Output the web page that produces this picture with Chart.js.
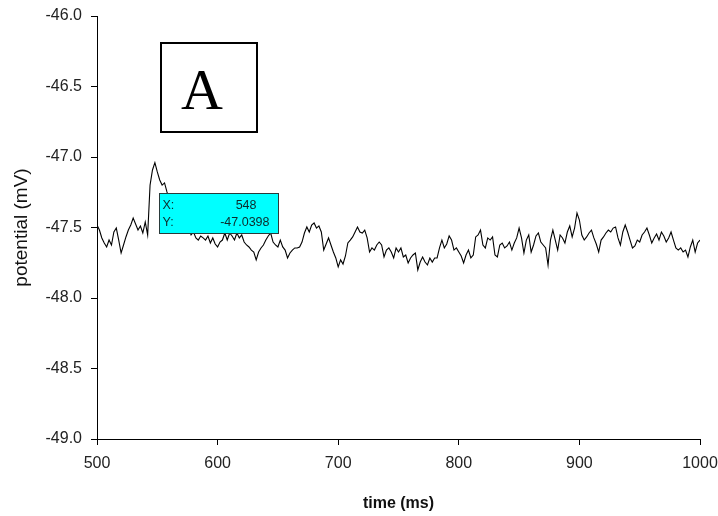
<!DOCTYPE html>
<html>
<head>
<meta charset="utf-8">
<title>Membrane potential trace</title>
<script src="https://cdn.jsdelivr.net/npm/chart.js@4.4.1/dist/chart.umd.min.js"></script>
<style>
  html, body { margin: 0; padding: 0; background: #ffffff; }
  canvas { display: block; }
</style>
</head>
<body>
<canvas id="trace" width="718" height="516"></canvas>
<script>
// Recorded sweep: time (ms) and membrane potential (mV), one sample every 2 ms
const timeMs = [
  500,502,504,506,508,510,512,514,516,518,520,522,524,526,528,530,532,534,536,538,
  540,542,544,546,548,550,552,554,556,558,560,562,564,566,568,570,572,574,576,578,
  580,582,584,586,588,590,592,594,596,598,600,602,604,606,608,610,612,614,616,618,
  620,622,624,626,628,630,632,634,636,638,640,642,644,646,648,650,652,654,656,658,
  660,662,664,666,668,670,672,674,676,678,680,682,684,686,688,690,692,694,696,698,
  700,702,704,706,708,710,712,714,716,718,720,722,724,726,728,730,732,734,736,738,
  740,742,744,746,748,750,752,754,756,758,760,762,764,766,768,770,772,774,776,778,
  780,782,784,786,788,790,792,794,796,798,800,802,804,806,808,810,812,814,816,818,
  820,822,824,826,828,830,832,834,836,838,840,842,844,846,848,850,852,854,856,858,
  860,862,864,866,868,870,872,874,876,878,880,882,884,886,888,890,892,894,896,898,
  900,902,904,906,908,910,912,914,916,918,920,922,924,926,928,930,932,934,936,938,
  940,942,944,946,948,950,952,954,956,958,960,962,964,966,968,970,972,974,976,978,
  980,982,984,986,988,990,992,994,996,998,1000
];

const potentialMv = [
  -47.482,-47.518,-47.574,-47.610,-47.638,-47.589,-47.624,-47.532,-47.504,-47.589,
  -47.681,-47.624,-47.567,-47.518,-47.482,-47.433,-47.475,-47.518,-47.489,-47.539,
  -47.461,-47.553,-47.199,-47.092,-47.0398,-47.106,-47.163,-47.199,-47.184,-47.248,
  -47.305,-47.340,-47.390,-47.433,-47.411,-47.482,-47.461,-47.518,-47.504,-47.553,
  -47.532,-47.574,-47.589,-47.560,-47.574,-47.589,-47.560,-47.610,-47.574,-47.617,
  -47.638,-47.603,-47.589,-47.539,-47.589,-47.539,-47.560,-47.589,-47.539,-47.574,
  -47.553,-47.603,-47.624,-47.638,-47.660,-47.674,-47.730,-47.674,-47.645,-47.624,
  -47.589,-47.560,-47.539,-47.603,-47.624,-47.638,-47.589,-47.638,-47.660,-47.716,
  -47.681,-47.660,-47.645,-47.645,-47.638,-47.603,-47.539,-47.496,-47.532,-47.482,
  -47.468,-47.504,-47.489,-47.532,-47.660,-47.617,-47.574,-47.624,-47.674,-47.716,
  -47.780,-47.730,-47.759,-47.702,-47.610,-47.589,-47.567,-47.532,-47.496,-47.532,
  -47.539,-47.518,-47.574,-47.674,-47.645,-47.660,-47.624,-47.603,-47.624,-47.709,
  -47.660,-47.645,-47.674,-47.716,-47.645,-47.674,-47.645,-47.709,-47.695,-47.752,
  -47.716,-47.695,-47.681,-47.801,-47.745,-47.709,-47.745,-47.766,-47.716,-47.745,
  -47.716,-47.716,-47.645,-47.589,-47.645,-47.617,-47.560,-47.589,-47.660,-47.645,
  -47.674,-47.702,-47.752,-47.695,-47.660,-47.716,-47.695,-47.567,-47.553,-47.518,
  -47.624,-47.645,-47.574,-47.589,-47.567,-47.695,-47.709,-47.624,-47.610,-47.645,
  -47.631,-47.603,-47.660,-47.610,-47.574,-47.504,-47.574,-47.681,-47.589,-47.553,
  -47.674,-47.624,-47.560,-47.539,-47.603,-47.624,-47.645,-47.766,-47.589,-47.518,
  -47.589,-47.660,-47.553,-47.574,-47.610,-47.532,-47.489,-47.567,-47.504,-47.397,
  -47.447,-47.553,-47.589,-47.567,-47.539,-47.518,-47.574,-47.617,-47.674,-47.589,
  -47.567,-47.539,-47.518,-47.532,-47.504,-47.496,-47.574,-47.624,-47.532,-47.482,
  -47.532,-47.589,-47.645,-47.631,-47.589,-47.603,-47.553,-47.532,-47.504,-47.553,
  -47.610,-47.574,-47.546,-47.589,-47.532,-47.560,-47.603,-47.574,-47.532,-47.589,
  -47.645,-47.660,-47.645,-47.674,-47.660,-47.709,-47.638,-47.589,-47.674,-47.610,
  -47.589
];

const timeTicks = [500, 600, 700, 800, 900, 1000];
const potentialTicks = [-49.0, -48.5, -48.0, -47.5, -47.0, -46.5, -46.0];

// Sample picked by the data cursor
const cursorTime = 548;
const panelLetter = 'A';

const sansFont = '"Liberation Sans", Arial, sans-serif';

// Panel letter and data-cursor readout, drawn on top of the plot
const overlayPlugin = {
  id: 'overlay',
  afterDraw(chart) {
    const ctx = chart.ctx;
    const area = chart.chartArea;
    const xs = chart.scales.x;
    const ys = chart.scales.y;

    // Panel letter in a framed box
    ctx.save();
    const bx = area.left + 64, by = area.top + 27, bw = 96, bh = 89;
    ctx.lineWidth = 2;
    ctx.strokeStyle = '#000';
    ctx.strokeRect(bx, by, bw, bh);
    ctx.fillStyle = '#000';
    ctx.font = '58px "Liberation Serif", "Times New Roman", serif';
    ctx.textAlign = 'center';
    ctx.textBaseline = 'alphabetic';
    ctx.fillText(panelLetter, bx + 41, by + 66);
    ctx.restore();

    // Data cursor readout next to the picked sample
    const idx = timeMs.indexOf(cursorTime);
    if (idx < 0) return;
    const px = xs.getPixelForValue(timeMs[idx]);
    const py = ys.getPixelForValue(potentialMv[idx]);
    const tx = Math.round(px) + 4.5, ty = Math.round(py) + 30.5;
    const tw = 119, th = 40;
    ctx.save();
    ctx.fillStyle = '#00ffff';
    ctx.fillRect(tx, ty, tw, th);
    ctx.lineWidth = 1;
    ctx.strokeStyle = '#2a3a3a';
    ctx.strokeRect(tx, ty, tw, th);
    ctx.fillStyle = '#0d2b2b';
    ctx.font = '12.5px ' + sansFont;
    ctx.textBaseline = 'middle';
    ctx.textAlign = 'left';
    ctx.fillText('X:', tx + 3, ty + 12);
    ctx.fillText('Y:', tx + 3, ty + 29);
    ctx.textAlign = 'right';
    ctx.fillText(String(timeMs[idx]), tx + 97, ty + 12);
    ctx.fillText(String(potentialMv[idx]), tx + 110, ty + 29);
    ctx.restore();
  }
};

new Chart(document.getElementById('trace'), {
  type: 'line',
  data: {
    datasets: [{
      label: 'potential',
      data: timeMs.map((t, i) => ({ x: t, y: potentialMv[i] })),
      borderColor: '#000000',
      borderWidth: 1.1,
      pointRadius: 0,
      tension: 0,
      fill: false
    }]
  },
  options: {
    responsive: false,
    animation: false,
    devicePixelRatio: 1,
    layout: { padding: { top: 16, right: 18, bottom: 0, left: 0 } },
    plugins: {
      legend: { display: false },
      tooltip: { enabled: false }
    },
    scales: {
      x: {
        type: 'linear',
        min: 500,
        max: 1000,
        afterBuildTicks(scale) { scale.ticks = timeTicks.map(v => ({ value: v })); },
        afterFit(scale) {
          scale.height = 77;
          scale.paddingLeft = 0;
          scale.paddingRight = 0;
        },
        border: { display: true, color: '#000', width: 1 },
        grid: { display: true, drawOnChartArea: false, drawTicks: true, tickLength: 6, color: '#000' },
        ticks: {
          color: '#222',
          padding: 9,
          maxRotation: 0,
          font: { family: sansFont, size: 16 },
          callback: v => String(v)
        },
        title: {
          display: true,
          text: 'time (ms)',
          color: '#111',
          font: { family: sansFont, size: 16, weight: 'bold' },
          padding: { top: 0, bottom: 2.5 }
        }
      },
      y: {
        type: 'linear',
        min: -49,
        max: -46,
        afterBuildTicks(scale) { scale.ticks = potentialTicks.map(v => ({ value: v })); },
        afterFit(scale) {
          scale.width = 97;
          scale.paddingTop = 0;
          scale.paddingBottom = 0;
        },
        border: { display: true, color: '#000', width: 1 },
        grid: { display: true, drawOnChartArea: false, drawTicks: true, tickLength: 6, color: '#000' },
        ticks: {
          color: '#222',
          padding: 9,
          font: { family: sansFont, size: 16 },
          callback: v => Number(v).toFixed(1)
        },
        title: {
          display: true,
          text: 'potential (mV)',
          color: '#111',
          font: { family: sansFont, size: 19 },
          padding: { top: 10.5, bottom: 0 }
        }
      }
    }
  },
  plugins: [overlayPlugin]
});
</script>
</body>
</html>
